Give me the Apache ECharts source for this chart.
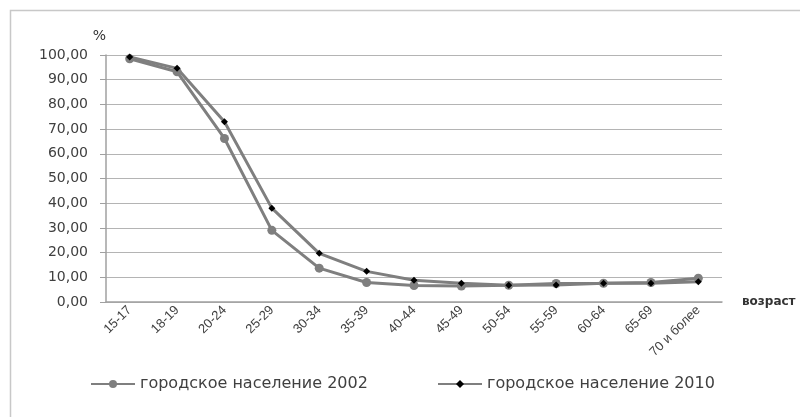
<!DOCTYPE html>
<html><head><meta charset="utf-8">
<script src="https://cdn.jsdelivr.net/npm/echarts@6/dist/echarts.min.js"></script>
<style>html,body{margin:0;padding:0;background:#fff}#c{width:800px;height:417px}</style>
</head><body><div id="c"></div>
<script>
const categories = ['15-17','18-19','20-24','25-29','30-34','35-39','40-44','45-49','50-54','55-59','60-64','65-69','70 и более'];
const urban2002 = [98.5, 93.2, 66.2, 29.0, 13.7, 7.9, 6.7, 6.5, 6.8, 7.5, 7.6, 7.9, 9.6];
const urban2010 = [99.2, 94.6, 73.0, 38.0, 19.7, 12.4, 8.8, 7.6, 6.8, 6.9, 7.6, 7.6, 8.2];
const seriesNames = ['городское население 2002', 'городское население 2010'];

const chart = echarts.init(document.getElementById('c'));
chart.setOption({
  animation: false,
  backgroundColor: '#fff',
  graphic: [{type:'polyline', shape:{points:[[10.5,420],[10.5,10.5],[800,10.5]]}, style:{stroke:'#c8c8c8', lineWidth:1.5, fill:null}}],
  grid: {left: 106, right: 78, top: 55, bottom: 115, outerBoundsMode: 'none', containLabel: false},
  legend: [
    {bottom: 20, left: 85, itemGap: 0, itemWidth: 44, itemHeight: 10,
     textStyle: {fontFamily: 'DejaVu Sans', fontSize: 16, color: '#404040'},
     data: [seriesNames[0]]},
    {bottom: 20, left: 432, itemGap: 0, itemWidth: 44, itemHeight: 10,
     textStyle: {fontFamily: 'DejaVu Sans', fontSize: 16, color: '#404040'},
     data: [seriesNames[1]]}
  ],
  xAxis: {
    type: 'category', data: categories, boundaryGap: true,
    name: 'возраст', nameLocation: 'end', nameGap: 20,
    nameTextStyle: {fontFamily: 'DejaVu Sans', fontWeight: 'bold', fontSize: 12, color: '#333', verticalAlign: 'middle'},
    axisLine: {lineStyle: {color: '#a0a0a0', width: 1.5}},
    axisTick: {show: false},
    axisLabel: {rotate: 45, fontFamily: 'Liberation Sans', fontSize: 13, color: '#404040', margin: 6, interval: 0}
  },
  yAxis: {
    type: 'value', min: 0, max: 100, interval: 10,
    name: '%', nameLocation: 'end', nameGap: 12,
    nameTextStyle: {fontFamily: 'DejaVu Sans', fontSize: 14, color: '#333', align: 'right', padding: [0, 0, 0, 0]},
    axisLine: {show: true, lineStyle: {color: '#a0a0a0', width: 1.5}},
    axisTick: {show: true, length: 6, lineStyle: {color: '#a0a0a0'}},
    splitLine: {lineStyle: {color: '#b4b4b4', width: 1.2}},
    axisLabel: {fontFamily: 'DejaVu Sans', fontSize: 14, color: '#404040', margin: 18,
      formatter: v => v.toFixed(2).replace('.', ',')}
  },
  series: [
    {name: seriesNames[0], type: 'line', data: urban2002, symbol: 'circle', symbolSize: 9,
     lineStyle: {color: '#7f7f7f', width: 3}, itemStyle: {color: '#7f7f7f'}},
    {name: seriesNames[1], type: 'line', data: urban2010, symbol: 'diamond', symbolSize: 7,
     lineStyle: {color: '#7f7f7f', width: 3}, itemStyle: {color: '#000'}}
  ]
});
</script></body></html>
